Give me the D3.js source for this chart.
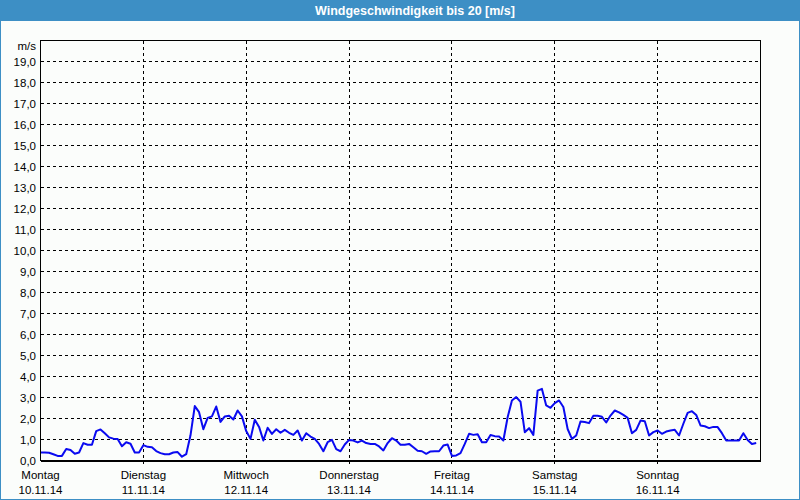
<!DOCTYPE html>
<html><head><meta charset="utf-8">
<script src="https://cdn.jsdelivr.net/npm/d3@7/dist/d3.min.js"></script>
<style>
html,body{margin:0;padding:0;background:#fbfdfb;}
svg{display:block;}
text{font-family:"Liberation Sans",Arial,sans-serif;}
</style></head>
<body>
<svg id="chart" width="800" height="500"></svg>
<script>
const titleText = "Windgeschwindigkeit bis 20 [m/s]";
const unitLabel = "m/s";
const dayNames = ["Montag","Dienstag","Mittwoch","Donnerstag","Freitag","Samstag","Sonntag"];
const dayDates = ["10.11.14","11.11.14","12.11.14","13.11.14","14.11.14","15.11.14","16.11.14"];
const yTicks = [0,1,2,3,4,5,6,7,8,9,10,11,12,13,14,15,16,17,18,19];
// hourly wind speed (m/s), starting Monday 10.11.14 00:00
const speeds = [
 0.38,0.38,0.37,0.30,0.22,0.22,0.55,0.50,0.32,0.38,0.83,0.75,0.75,1.40,1.48,1.30,1.10,1.04,1.02,0.68,0.87,0.80,0.38,0.38,
 0.73,0.65,0.63,0.45,0.35,0.30,0.30,0.38,0.40,0.18,0.30,1.20,2.59,2.30,1.49,2.03,2.10,2.57,1.84,2.10,2.13,1.95,2.38,2.10,
 1.40,1.03,1.94,1.60,0.95,1.56,1.27,1.49,1.32,1.46,1.32,1.22,1.43,0.95,1.30,1.14,1.03,0.79,0.44,0.87,0.98,0.54,0.44,0.76,
 0.98,0.95,0.86,0.95,0.83,0.79,0.79,0.67,0.48,0.83,1.06,0.95,0.75,0.75,0.79,0.63,0.46,0.44,0.32,0.43,0.44,0.44,0.71,0.76,
 0.22,0.24,0.35,0.79,1.27,1.22,1.25,0.87,0.87,1.21,1.16,1.14,0.95,2.06,2.86,3.02,2.80,1.35,1.54,1.22,3.33,3.41,2.62,2.51,
 2.73,2.86,2.55,1.50,1.03,1.19,1.86,1.83,1.78,2.13,2.13,2.08,1.81,2.14,2.38,2.29,2.17,2.03,1.30,1.46,1.90,1.87,1.19,1.35,
 1.43,1.27,1.38,1.43,1.46,1.19,1.75,2.27,2.35,2.17,1.67,1.63,1.54,1.60,1.59,1.30,0.95,0.95,0.95,0.95,1.30,0.98,0.79,0.83
];

const W = 800, H = 500;
const svg = d3.select("#chart");
const frameColor = "#3d8fc5";

// title bar
svg.append("rect").attr("x",0).attr("y",0).attr("width",W).attr("height",21).attr("fill",frameColor);
svg.append("text").attr("x",W/2+15).attr("y",15).attr("text-anchor","middle")
  .attr("fill","#ffffff").attr("font-size","12.5px").attr("font-weight","bold").text(titleText);
// outer frame
svg.append("rect").attr("x",0.5).attr("y",0.5).attr("width",W-1).attr("height",H-1)
  .attr("fill","none").attr("stroke",frameColor);

const pLeft = 40.5, pRight = 760.5, pTop = 40.5, pBottom = 460.5;
const x = d3.scaleLinear().domain([0, 168]).range([pLeft, pRight]);
const y = d3.scaleLinear().domain([0, 20]).range([pBottom, pTop]);
const dash = "3,3";

// horizontal gridlines
svg.append("g").selectAll("line").data(yTicks.filter(d=>d>0)).join("line")
  .attr("x1",pLeft).attr("x2",pRight)
  .attr("y1",d=>y(d)).attr("y2",d=>y(d))
  .attr("stroke","#000").attr("stroke-dasharray",dash).attr("shape-rendering","crispEdges");

// vertical day lines
const dayIdx = d3.range(1, 7);
svg.append("g").selectAll("line").data(dayIdx).join("line")
  .attr("x1",d=>Math.round(x(d*24)-0.5)+0.5).attr("x2",d=>Math.round(x(d*24)-0.5)+0.5)
  .attr("y1",pTop).attr("y2",pBottom+3)
  .attr("stroke","#000").attr("stroke-dasharray",dash).attr("shape-rendering","crispEdges");

// y labels
const fmt = v => d3.format(".1f")(v).replace(".", ",");
svg.append("g").selectAll("text").data(yTicks).join("text")
  .attr("x",36).attr("y",d=>y(d)+4).attr("text-anchor","end")
  .attr("font-size","11.5px").attr("fill","#000").text(d=>fmt(d));
svg.append("text").attr("x",36).attr("y",50).attr("text-anchor","end")
  .attr("font-size","11.5px").attr("fill","#000").text(unitLabel);

// x labels
const dayG = svg.append("g").selectAll("g").data(dayNames).join("g");
dayG.append("text").attr("x",(d,i)=>x(i*24)).attr("y",479).attr("text-anchor","middle")
  .attr("font-size","11.5px").attr("fill","#000").text(d=>d);
dayG.append("text").attr("x",(d,i)=>x(i*24)).attr("y",494).attr("text-anchor","middle")
  .attr("font-size","11.5px").attr("fill","#000").text((d,i)=>dayDates[i]);

// data line
const line = d3.line().x((d,i)=>x(i)).y(d=>y(d));
svg.append("path").datum(speeds).attr("d",line)
  .attr("fill","none").attr("stroke","#0a0af0").attr("stroke-width",2).attr("stroke-linejoin","round");

// plot frame
svg.append("rect").attr("x",pLeft).attr("y",pTop).attr("width",pRight-pLeft).attr("height",pBottom-pTop)
  .attr("fill","none").attr("stroke","#000").attr("shape-rendering","crispEdges");
svg.append("line").attr("x1",pLeft).attr("x2",pRight).attr("y1",pBottom+1).attr("y2",pBottom+1)
  .attr("stroke","#000").attr("shape-rendering","crispEdges");
</script>
</body></html>
